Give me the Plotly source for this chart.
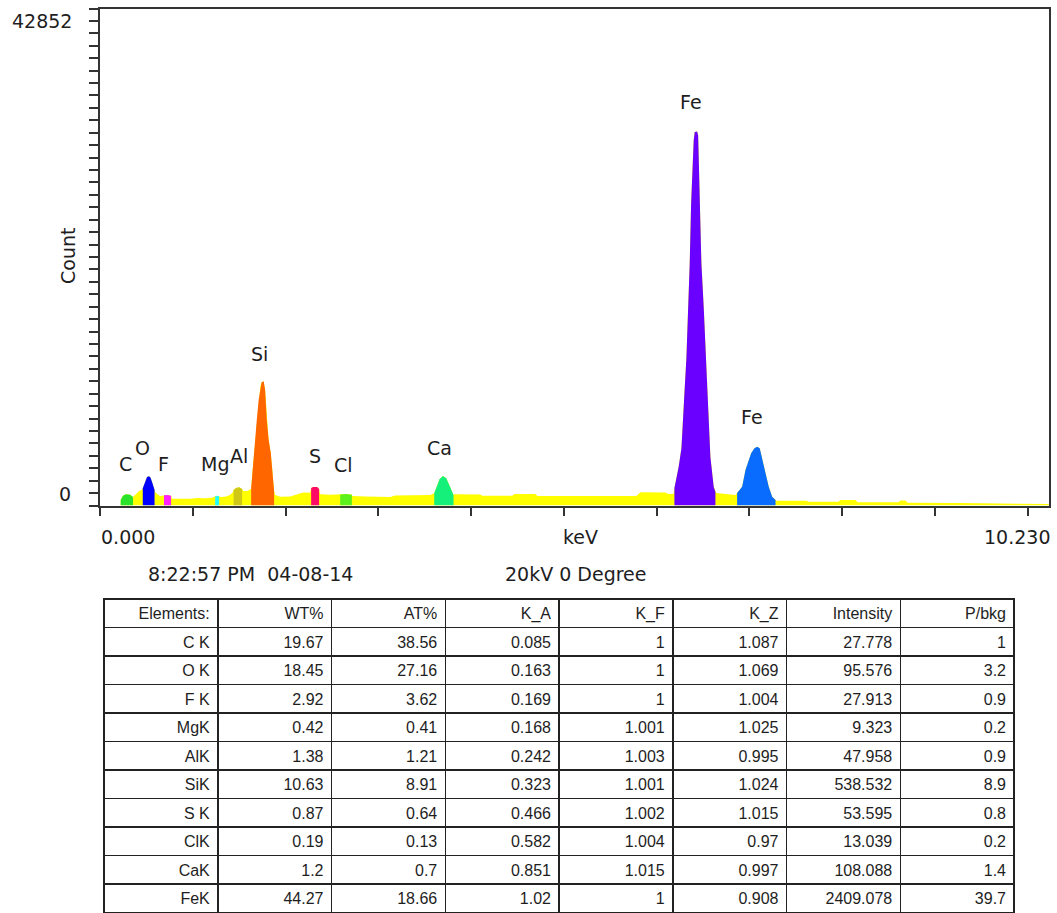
import plotly.graph_objects as go

# ---- EDS spectrum (energy in keV, counts) ----
energy_kev = [
    0.223, 0.248, 0.280, 0.324, 0.356,
    0.388, 0.421, 0.448,
    0.461, 0.475, 0.491, 0.507, 0.529, 0.545, 0.561, 0.577, 0.588,
    0.593, 0.615, 0.647, 0.680,
    0.690, 0.728, 0.766,
    0.777, 0.863, 0.971, 1.046, 1.133, 1.208,
    1.241, 1.262, 1.284,
    1.294, 1.348, 1.402, 1.435,
    1.440, 1.467, 1.499, 1.532,
    1.543, 1.586, 1.618,
    1.629, 1.640, 1.661, 1.690, 1.710, 1.729, 1.742, 1.764, 1.780, 1.798,
    1.818, 1.841, 1.861, 1.877,
    1.888, 1.942, 2.050, 2.125, 2.190, 2.265,
    2.276, 2.298, 2.341, 2.362,
    2.373, 2.481, 2.578,
    2.589, 2.654, 2.715,
    2.718, 2.859, 3.128, 3.182, 3.560,
    3.603, 3.632, 3.660, 3.697, 3.732, 3.757, 3.794, 3.811,
    3.819, 4.099, 4.121, 4.444, 4.466, 4.693, 4.714, 5.782, 5.825, 6.095,
    6.127, 6.181,
    6.192, 6.238, 6.268, 6.282, 6.300, 6.321, 6.335, 6.343, 6.357, 6.372,
    6.383, 6.400, 6.411, 6.437, 6.448, 6.462, 6.472, 6.483, 6.508, 6.537,
    6.548, 6.562, 6.580, 6.616, 6.634,
    6.645, 6.742, 6.850,
    6.868, 6.922, 6.958, 6.993, 7.019, 7.055, 7.084, 7.112, 7.138, 7.174,
    7.209, 7.246, 7.282,
    7.292, 7.616, 7.638, 7.961, 7.983, 8.145, 8.166, 8.608, 8.630, 8.684,
    8.706, 9.277, 9.989, 10.011, 10.097, 10.140, 10.227,
]
counts = [
    474, 844, 965, 930, 732,
    1016, 1249, 1335,
    1481, 1766, 2196, 2455, 2515, 2394, 2024, 1593, 1335,
    1189, 990, 818, 844,
    879, 904, 844,
    586, 560, 586, 646, 620, 672,
    758, 844, 792,
    732, 758, 904, 1163,
    1335, 1507, 1568, 1421,
    1249, 1249, 1378,
    1421, 2627, 4522, 7364, 9087, 10293, 10637, 10723, 9948, 7364,
    5642, 4522, 2627, 1249,
    904, 758, 775, 990, 1120, 1102,
    1507, 1593, 1593, 1421,
    965, 930, 965,
    947, 990, 930,
    818, 775, 732, 861, 904,
    1051, 1619, 2257, 2541, 2343, 1912, 1275, 904,
    965, 947, 844, 844, 990, 990, 818, 818, 1137, 1120,
    990, 990,
    1507, 3342, 4952, 7536, 9690, 12704, 15547, 17097, 20887, 26054,
    28897, 31481, 32196, 32256, 31911, 27777, 23470, 20887, 17097, 11671,
    9087, 6244, 4177, 1593, 1163,
    1077, 990, 904,
    1077, 1619, 3058, 3919, 4496, 4927, 5064, 4927, 4065, 2773,
    1619, 758, 474,
    413, 413, 327, 327, 474, 474, 276, 276, 431, 431,
    241, 215, 189, 129, 155, 129, 129,
]

Y_MAX = 42852
X_MAX = 10.230

# ---- element regions of interest (keV windows) ----
roi_lo = [0.22, 0.46, 0.69, 1.24, 1.44, 1.625, 2.275, 2.585, 3.60, 6.19, 6.865]
roi_hi = [0.36, 0.59, 0.77, 1.285, 1.535, 1.88, 2.365, 2.716, 3.812, 6.635, 7.285]
roi_colors = ["#2be32b", "#0000ff", "#ff22ff", "#22ffff", "#cfc816", "#ff6600",
              "#ff0a64", "#5cf01c", "#14f07a", "#6a00ff", "#0a6cff"]

# ---- peak labels ----
label_text = ["C", "O", "F", "Mg", "Al", "Si", "S", "Cl", "Ca", "Fe", "Fe"]
label_kev = [0.275, 0.453, 0.680, 1.241, 1.494, 1.721, 2.314, 2.627, 3.662, 6.375, 7.030]
label_counts = [3617, 4952, 3574, 3574, 4263, 13092, 4307, 3488, 4996, 34753, 7648]

# ---- quantification table ----
col_headers = ["Elements:", "WT%", "AT%", "K_A", "K_F", "K_Z", "Intensity", "P/bkg"]
elements = ["C K", "O K", "F K", "MgK", "AlK", "SiK", "S K", "ClK", "CaK", "FeK"]
wt_pct = [19.67, 18.45, 2.92, 0.42, 1.38, 10.63, 0.87, 0.19, 1.2, 44.27]
at_pct = [38.56, 27.16, 3.62, 0.41, 1.21, 8.91, 0.64, 0.13, 0.7, 18.66]
k_a = [0.085, 0.163, 0.169, 0.168, 0.242, 0.323, 0.466, 0.582, 0.851, 1.02]
k_f = [1, 1, 1, 1.001, 1.003, 1.001, 1.002, 1.004, 1.015, 1]
k_z = [1.087, 1.069, 1.004, 1.025, 0.995, 1.024, 1.015, 0.97, 0.997, 0.908]
intensity = [27.778, 95.576, 27.913, 9.323, 47.958, 538.532, 53.595, 13.039, 108.088, 2409.078]
p_bkg = [1, 3.2, 0.9, 0.2, 0.9, 8.9, 0.8, 0.2, 1.4, 39.7]

W, H = 1057, 913
TXT = "#1e1e1e"
AXC = "#333333"

fig = go.Figure()

# whole spectrum in yellow
fig.add_trace(go.Scatter(
    x=energy_kev, y=counts, mode="lines", fill="tozeroy",
    line=dict(width=0, color="#ffff00"), fillcolor="#ffff00",
    hoverinfo="skip", showlegend=False,
))

# each element window filled with its own colour
for lo, hi, col in zip(roi_lo, roi_hi, roi_colors):
    xs = [e for e in energy_kev if lo <= e <= hi]
    ys = [c for e, c in zip(energy_kev, counts) if lo <= e <= hi]
    fig.add_trace(go.Scatter(
        x=xs, y=ys, mode="lines", fill="tozeroy",
        line=dict(width=0, color=col), fillcolor=col,
        hoverinfo="skip", showlegend=False,
    ))

# quantification table
def fmt(v):
    return str(v)

fig.add_trace(go.Table(
    domain=dict(x=[104 / W, 1014 / W], y=[0.0, (H - 599) / H]),
    columnwidth=[1] * 8,
    header=dict(
        values=col_headers, align="right", height=28.5,
        fill_color="white", line=dict(color="#222222", width=1.5),
        font=dict(family="Liberation Sans", size=16, color=TXT),
    ),
    cells=dict(
        values=[elements,
                [fmt(v) for v in wt_pct], [fmt(v) for v in at_pct],
                [fmt(v) for v in k_a], [fmt(v) for v in k_f],
                [fmt(v) for v in k_z], [fmt(v) for v in intensity],
                [fmt(v) for v in p_bkg]],
        align="right", height=28.5,
        fill_color="white", line=dict(color="#222222", width=1.5),
        font=dict(family="Liberation Sans", size=16, color=TXT),
    ),
))

annotations = []
for t, xk, yc in zip(label_text, label_kev, label_counts):
    annotations.append(dict(
        x=xk, y=yc, xref="x", yref="y", text=t, showarrow=False,
        xanchor="center", yanchor="middle",
        font=dict(size=19, color=TXT),
    ))

def paper_note(text, px, py, xanchor="center", angle=0):
    annotations.append(dict(
        x=px / W, y=1 - py / H, xref="paper", yref="paper", text=text,
        showarrow=False, xanchor=xanchor, yanchor="middle", textangle=angle,
        font=dict(size=19, color=TXT),
    ))

# axis end labels and captions
paper_note(str(Y_MAX), 74, 21.5, "right")
paper_note("0", 73, 494.5, "right")
paper_note("0.000", 99, 537, "left")
paper_note("keV", 580, 537)
paper_note(f"{X_MAX:.3f}", 1052, 537, "right")
paper_note("Count", 68, 256, angle=-90)
paper_note("8:22:57 PM\u00a0\u00a004-08-14", 146, 574, "left")
paper_note("20kV 0 Degree", 503, 574, "left")

fig.update_layout(
    width=W, height=H,
    margin=dict(l=0, r=0, t=0, b=0),
    paper_bgcolor="white", plot_bgcolor="white",
    font=dict(family="DejaVu Sans", size=19, color=TXT),
    annotations=annotations,
    xaxis=dict(
        domain=[100 / W, 1049 / W], range=[0, X_MAX],
        tickvals=list(range(0, 11)), showticklabels=False,
        ticks="outside", ticklen=8, tickwidth=2, tickcolor=AXC,
        showline=True, linecolor=AXC, linewidth=2, mirror=True,
        showgrid=False, zeroline=False, fixedrange=True,
    ),
    yaxis=dict(
        domain=[1 - 505.5 / H, 1 - 8.5 / H], range=[0, Y_MAX],
        tickvals=[Y_MAX * i / 40 for i in range(41)], showticklabels=False,
        ticks="outside", ticklen=9, tickwidth=2, tickcolor=AXC,
        showline=True, linecolor=AXC, linewidth=2, mirror=True,
        showgrid=False, zeroline=False, fixedrange=True,
    ),
)

fig.write_html("out.html")
